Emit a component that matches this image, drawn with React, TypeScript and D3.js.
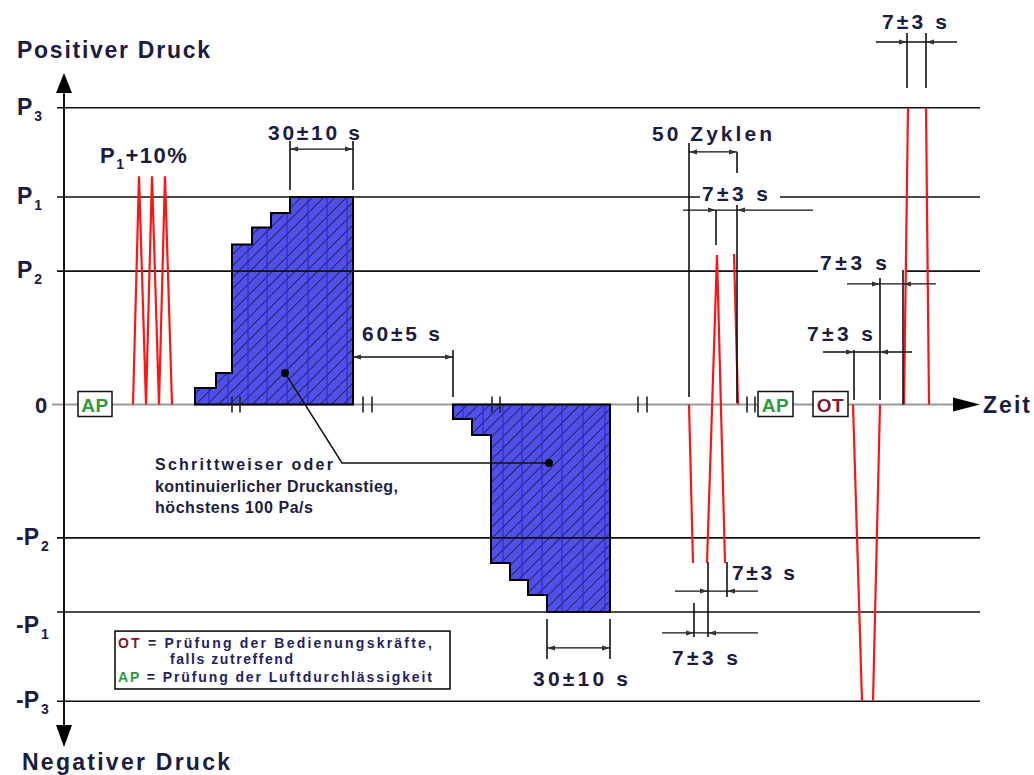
import React, { useEffect, useRef } from 'react'
import * as d3 from 'd3'

const width = 1034
const height = 775
const font = "'Liberation Sans', Arial, Helvetica, sans-serif"
const ink = '#1c1c40'
const red = '#ff1414'

// pressure levels, in units of P1
const levelNames = ['P3', 'P1', 'P2', '-P2', '-P1', '-P3']
const levelValues = [1.43, 1, 0.643, -0.643, -1, -1.43]
// level lines that are broken for a label
const gapLevels = ['P1', 'P2']
const gapFrom = [640, 758]
const gapTo = [720, 845]

// P1 + 10% pulses
const pulseTimes = [73, 79, 86, 92, 99, 105, 112]
const pulseValues = [0, 1.1, 0, 1.1, 0, 1.1, 0]

// stepwise pressure rise / fall
const riseTimes = [135, 156, 172, 192, 211, 230]
const riseValues = [0.08, 0.152, 0.771, 0.853, 0.923, 1]
const riseEnd = 293
const fallTimes = [393, 412, 431, 450, 468, 487]
const fallValues = [-0.07, -0.147, -0.764, -0.846, -0.918, -1]
const fallEnd = 550
const riseStripes = [149, 168, 188, 207, 227, 248, 267, 287]
const fallStripes = [403, 423, 443, 462, 482, 502, 523, 545]

// [time, pressure]
const cycleLines = [
  [[629, 0], [633, -0.764]],
  [[647, -0.764], [657, 0.72], [665, -0.764]],
  [[674, 0.725], [678, 0]],
]
const p3Lines = [
  [[848, 1.43], [844, 0]],
  [[866, 1.43], [869, 0]],
]
const otLines = [
  [[793, 0], [802, -1.43]],
  [[813, -1.43], [820, 0]],
]

const breakTimes = [172, 180, 303, 312, 432, 440, 578, 587, 687, 695]

const boxLabels = ['AP', 'AP', 'OT']
const boxFrom = [18, 698, 753]
const boxTo = [52, 733, 788]

// dimension lines
const dims = [
  { p: 1.231, from: 230, to: 293, tips: [[230, -1], [293, 1]], ext: [[230, 1.27, 1.034], [293, 1.27, 1.034]], label: '30±10 s', lt: 208, lp: 1.275, len: 92 },
  { p: 0.229, from: 293, to: 393, tips: [[293, -1], [393, 1]], ext: [[393, 0.263, 0.036]], label: '60±5 s', lt: 302, lp: 0.306, len: 78 },
  { p: 1.217, from: 629, to: 677, tips: [[629, -1], [677, 1]], ext: [[629, 1.26, 0.036], [677, 1.217, 1.116]], label: '50 Zyklen', lt: 592, lp: 1.27, len: 120 },
  { p: 0.937, from: 623, to: 753, tips: [[656, 1], [677, -1]], ext: [[656, 0.937, 0.769], [677, 0.961, 0.007]], label: '7±3 s', lt: 642, lp: 0.981, len: 66 },
  { p: 1.747, from: 816, to: 897, tips: [[847, 1], [866, -1]], ext: [[847, 1.79, 1.525], [866, 1.79, 1.525]], label: '7±3 s', lt: 822, lp: 1.81, len: 65 },
  { p: 0.581, from: 787, to: 876, tips: [[820, 1], [843, -1]], ext: [[820, 0.61, 0.022], [843, 0.648, 0]], label: '7±3 s', lt: 760, lp: 0.648, len: 67 },
  { p: 0.253, from: 763, to: 852, tips: [[794, 1], [820, -1]], ext: [[794, 0.263, 0.022]], label: '7±3 s', lt: 747, lp: 0.306, len: 66 },
  { p: -0.899, from: 615, to: 698, tips: [[648, 1], [667, -1]], ext: [[648, -0.759, -1.121], [667, -0.759, -0.928]], label: '7±3 s', lt: 672, lp: -0.846, len: 63 },
  { p: -1.101, from: 602, to: 698, tips: [[634, 1], [648, -1]], ext: [[634, -0.957, -1.121]], label: '7±3 s', lt: 612, lp: -1.257, len: 66 },
  { p: -1.173, from: 487, to: 550, tips: [[487, -1], [550, 1]], ext: [[487, -1.034, -1.227], [550, -1.034, -1.227]], label: '30±10 s', lt: 473, lp: -1.357, len: 95 },
]

const noteLines = ['Schrittweiser oder', 'kontinuierlicher Druckanstieg,', 'höchstens 100 Pa/s']
const noteLevels = [-0.318, -0.424, -0.525]
const noteLengths = [178, 243, 158]
const leader = [[225, 0.152], [282, -0.282], [489, -0.282]]

function steps(times: number[], values: number[], end: number) {
  const pts: number[][] = [[times[0], 0]]
  times.forEach((t, i) => {
    if (i > 0) pts.push([t, values[i - 1]])
    pts.push([t, values[i]])
  })
  pts.push([end, values[values.length - 1]], [end, 0])
  return pts
}

export default function App() {
  const ref = useRef<SVGSVGElement>(null)

  useEffect(() => {
    const svg = d3.select(ref.current)
    svg.selectAll('*').remove()

    const x = d3.scaleLinear().domain([0, 920]).range([60, 980])
    const y = d3.scaleLinear().domain([-1, 1]).range([612, 197])
    const line = d3.line<number[]>().x(d => x(d[0])).y(d => y(d[1]))

    const defs = svg.append('defs')
    const pat = defs.append('pattern').attr('id', 'hatch')
      .attr('patternUnits', 'userSpaceOnUse')
      .attr('width', 8).attr('height', 8)
      .attr('patternTransform', 'rotate(45)')
    pat.append('rect').attr('width', 8).attr('height', 8).attr('fill', '#5050e8')
    pat.append('line').attr('x1', 0).attr('y1', 0).attr('x2', 0).attr('y2', 8)
      .attr('stroke', '#0c0c18').attr('stroke-width', 1.3)

    // time axis (grey)
    svg.append('line')
      .attr('x1', x(-8)).attr('x2', x(895))
      .attr('y1', y(0)).attr('y2', y(0))
      .attr('stroke', '#9a9a9a').attr('stroke-width', 2)
    svg.append('path')
      .attr('d', `M${x(893)},${y(0) - 7}L${x(920)},${y(0)}L${x(893)},${y(0) + 7}Z`)
      .attr('fill', '#000')

    // hatched areas
    const areas: [number[], number[], number, number[], string][] = [
      [riseTimes, riseValues, riseEnd, riseStripes, 'clipRise'],
      [fallTimes, fallValues, fallEnd, fallStripes, 'clipFall'],
    ]
    areas.forEach(([times, values, end, stripes, id]) => {
      const d = line(steps(times, values, end)) + 'Z'
      defs.append('clipPath').attr('id', id).append('path').attr('d', d)
      svg.append('path').attr('d', d).attr('fill', 'url(#hatch)')
      svg.append('g').attr('clip-path', `url(#${id})`)
        .selectAll('line').data(stripes).join('line')
        .attr('x1', t => x(t)).attr('x2', t => x(t))
        .attr('y1', y(-1.1)).attr('y2', y(1.1))
        .attr('stroke', '#2a2ad8').attr('stroke-width', 1.2)
      svg.append('path').attr('d', d).attr('fill', 'none')
        .attr('stroke', '#000').attr('stroke-width', 2)
    })

    // level lines
    levelNames.forEach((name, i) => {
      const v = levelValues[i]
      const g = gapLevels.indexOf(name)
      const parts = g < 0 ? [[-3, 920]] : [[-3, gapFrom[g]], [gapTo[g], 920]]
      parts.forEach(([a, b]) => {
        svg.append('line')
          .attr('x1', x(a)).attr('x2', x(b))
          .attr('y1', y(v)).attr('y2', y(v))
          .attr('stroke', '#111').attr('stroke-width', 1.6)
      })
    })

    // red pressure pulses
    const pulse = pulseTimes.map((t, i) => [t, pulseValues[i]])
    ;[pulse, ...cycleLines, ...p3Lines, ...otLines].forEach(pts => {
      svg.append('path').attr('d', line(pts as number[][]))
        .attr('fill', 'none').attr('stroke', red).attr('stroke-width', 2.2)
    })

    // axis breaks
    svg.selectAll('line.brk').data(breakTimes).join('line').attr('class', 'brk')
      .attr('x1', t => x(t)).attr('x2', t => x(t))
      .attr('y1', y(0) - 8).attr('y2', y(0) + 8)
      .attr('stroke', '#222').attr('stroke-width', 1.6)

    // AP / OT boxes
    boxLabels.forEach((lab, i) => {
      svg.append('rect')
        .attr('x', x(boxFrom[i])).attr('y', y(0) - 13)
        .attr('width', x(boxTo[i]) - x(boxFrom[i])).attr('height', 25)
        .attr('fill', '#fff').attr('stroke', '#111').attr('stroke-width', 1.5)
      svg.append('text')
        .attr('x', (x(boxFrom[i]) + x(boxTo[i])) / 2).attr('y', y(0) + 7)
        .attr('text-anchor', 'middle')
        .attr('font-family', font).attr('font-weight', 'bold').attr('font-size', 19)
        .attr('letter-spacing', 0.5)
        .attr('fill', lab === 'AP' ? '#2e9a3a' : '#7c1a30')
        .text(lab)
    })

    // dimension lines
    dims.forEach(dm => {
      svg.append('line')
        .attr('x1', x(dm.from)).attr('x2', x(dm.to))
        .attr('y1', y(dm.p)).attr('y2', y(dm.p))
        .attr('stroke', '#111').attr('stroke-width', 1.3)
      dm.tips.forEach(([t, dir]) => {
        const X = x(t), Y = y(dm.p)
        svg.append('path')
          .attr('d', `M${X},${Y}L${X - dir * 8},${Y - 2.5}L${X - dir * 8},${Y + 2.5}Z`)
          .attr('fill', '#333')
      })
      dm.ext.forEach(([t, a, b]) => {
        svg.append('line')
          .attr('x1', x(t)).attr('x2', x(t))
          .attr('y1', y(a)).attr('y2', y(b))
          .attr('stroke', '#111').attr('stroke-width', 1.6)
      })
      svg.append('text')
        .attr('x', x(dm.lt)).attr('y', y(dm.lp))
        .attr('font-family', font).attr('font-weight', 'bold').attr('font-size', 21)
        .attr('textLength', dm.len).attr('lengthAdjust', 'spacing')
        .attr('fill', ink)
        .text(dm.label)
    })

    // note with leader
    svg.append('path').attr('d', line(leader))
      .attr('fill', 'none').attr('stroke', '#111').attr('stroke-width', 1.5)
    ;[leader[0], leader[2]].forEach(d => {
      svg.append('circle').attr('cx', x(d[0])).attr('cy', y(d[1])).attr('r', 4).attr('fill', '#000')
    })
    noteLines.forEach((s, i) => {
      svg.append('text')
        .attr('x', x(95)).attr('y', y(noteLevels[i]))
        .attr('font-family', font).attr('font-weight', 'bold').attr('font-size', 16)
        .attr('textLength', noteLengths[i]).attr('lengthAdjust', 'spacing')
        .attr('fill', ink)
        .text(s)
    })

    // legend
    svg.append('rect')
      .attr('x', x(55)).attr('y', y(-1.092))
      .attr('width', x(390) - x(55)).attr('height', y(-1.371) - y(-1.092))
      .attr('fill', '#fff').attr('stroke', '#111').attr('stroke-width', 1.6)
    const leg1 = svg.append('text').attr('x', x(58)).attr('y', y(-1.173))
      .attr('font-family', font).attr('font-weight', 'bold').attr('font-size', 14)
      .attr('textLength', 314).attr('lengthAdjust', 'spacing').attr('fill', '#1e2460')
    leg1.append('tspan').attr('fill', '#7c1a30').text('OT')
    leg1.append('tspan').text(' = Prüfung der Bedienungskräfte,')
    svg.append('text').attr('x', x(110)).attr('y', y(-1.251))
      .attr('font-family', font).attr('font-weight', 'bold').attr('font-size', 14)
      .attr('textLength', 123).attr('lengthAdjust', 'spacing').attr('fill', '#1e2460')
      .text('falls zutreffend')
    const leg2 = svg.append('text').attr('x', x(58)).attr('y', y(-1.337))
      .attr('font-family', font).attr('font-weight', 'bold').attr('font-size', 14)
      .attr('textLength', 314).attr('lengthAdjust', 'spacing').attr('fill', '#1e2460')
    leg2.append('tspan').attr('fill', '#2e9a3a').text('AP')
    leg2.append('tspan').text(' = Prüfung der Luftdurchlässigkeit')

    // pressure axis
    svg.append('line')
      .attr('x1', x(4)).attr('x2', x(4))
      .attr('y1', y(1.5)).attr('y2', y(-1.545))
      .attr('stroke', '#111').attr('stroke-width', 2)
    svg.append('path')
      .attr('d', `M${x(4)},${y(1.598)}L${x(4) - 8},${y(1.501)}L${x(4) + 8},${y(1.501)}Z`)
      .attr('fill', '#000')
    svg.append('path')
      .attr('d', `M${x(4)},${y(-1.651)}L${x(4) - 8},${y(-1.545)}L${x(4) + 8},${y(-1.545)}Z`)
      .attr('fill', '#000')

    // level labels
    levelNames.forEach((name, i) => {
      const neg = name.startsWith('-')
      const t = svg.append('text')
        .attr('x', x(neg ? -44 : -43)).attr('y', y(levelValues[i]) + (name === '-P1' ? 21 : 7))
        .attr('font-family', font).attr('font-weight', 'bold').attr('font-size', 23)
        .attr('fill', ink)
      t.append('tspan').text(name.slice(0, -1))
      t.append('tspan').attr('font-size', 14).attr('dx', 2).attr('dy', 6).text(name.slice(-1))
    })
    svg.append('text')
      .attr('x', x(-25)).attr('y', y(0) + 8)
      .attr('font-family', font).attr('font-weight', 'bold').attr('font-size', 22)
      .attr('fill', ink).text('0')

    const pl = svg.append('text').attr('x', x(40)).attr('y', y(1.164))
      .attr('font-family', font).attr('font-weight', 'bold').attr('font-size', 22)
      .attr('letter-spacing', 1.5).attr('fill', ink)
    pl.append('tspan').text('P')
    pl.append('tspan').attr('font-size', 14).attr('dy', 6).text('1')
    pl.append('tspan').attr('dy', -6).text('+10%')

    const title = (s: string, t: number, p: number, len: number) =>
      svg.append('text').attr('x', x(t)).attr('y', y(p))
        .attr('font-family', font).attr('font-weight', 'bold').attr('font-size', 23)
        .attr('textLength', len).attr('lengthAdjust', 'spacing')
        .attr('fill', ink).text(s)
    title('Positiver Druck', -43, 1.67, 193)
    title('Negativer Druck', -38, -1.761, 208)
    title('Zeit', 923, -0.041, 47)
  }, [])

  return (
    <div style={{ position: 'absolute', left: 0, top: 0 }}>
      <svg ref={ref} width={width} height={height} style={{ background: '#fff', display: 'block' }} />
    </div>
  )
}
